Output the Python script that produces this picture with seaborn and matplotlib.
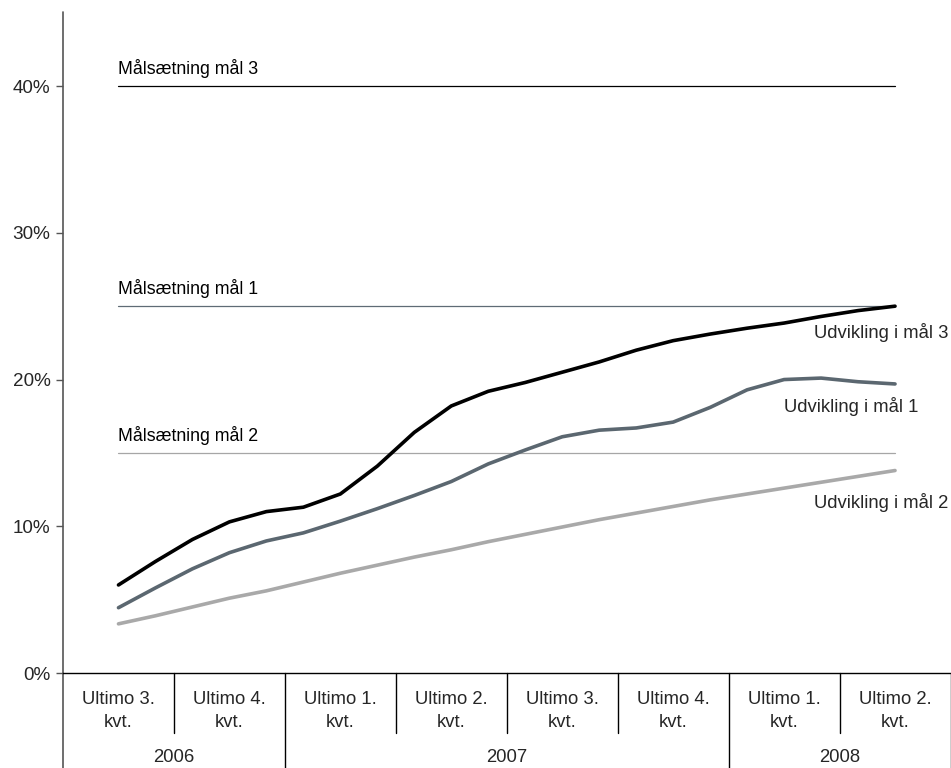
import numpy as np
import pandas as pd
import matplotlib
matplotlib.use("Agg")
import matplotlib.pyplot as plt
import matplotlib.transforms as mtransforms
import seaborn as sns

# ---------------- data ----------------
quarters = ["Ultimo 3.\nkvt.", "Ultimo 4.\nkvt.", "Ultimo 1.\nkvt.", "Ultimo 2.\nkvt.",
            "Ultimo 3.\nkvt.", "Ultimo 4.\nkvt.", "Ultimo 1.\nkvt.", "Ultimo 2.\nkvt."]
years = ["2006", "2007", "2008"]
year_first_q = [0, 2, 6]          # index of first quarter in each year
year_last_q = [1, 5, 7]           # index of last quarter in each year

# monthly observations: Ultimo 3. kvt. 2006 ... Ultimo 2. kvt. 2008 (22 months)
month_idx = list(range(22))
udv_maal3 = [6.0, 7.6, 9.1, 10.3, 11.0, 11.3, 12.2, 14.1, 16.4, 18.2, 19.2,
             19.8, 20.5, 21.2, 22.0, 22.65, 23.1, 23.5, 23.85, 24.3, 24.7, 25.0]
udv_maal1 = [4.45, 5.8, 7.1, 8.2, 9.0, 9.55, 10.35, 11.2, 12.1, 13.05, 14.25,
             15.2, 16.1, 16.55, 16.7, 17.1, 18.1, 19.3, 20.0, 20.1, 19.85, 19.7]
udv_maal2 = [3.35, 3.9, 4.5, 5.1, 5.6, 6.2, 6.8, 7.35, 7.9, 8.4, 8.95,
             9.45, 9.95, 10.45, 10.9, 11.35, 11.8, 12.2, 12.6, 13.0, 13.4, 13.8]
series_names = ["Udvikling i mål 3", "Udvikling i mål 1", "Udvikling i mål 2"]

target_names = ["Målsætning mål 3", "Målsætning mål 1", "Målsætning mål 2"]
target_values = [40, 25, 15]

yticks = [0, 10, 20, 30, 40]
ytick_labels = ["0%", "10%", "20%", "30%", "40%"]

# ---------------- styling ----------------
col_dev = ["#000000", "#5b6770", "#a9a9a9"]
col_target = ["#000000", "#5f6b75", "#a6a6a6"]

sns.set_theme(style="white")
plt.rcParams["font.family"] = ["Liberation Sans", "DejaVu Sans"]
FS_T = 12.8   # target labels
FS_S = 13.3   # series labels
FS_Q = 13.3   # category labels
FS_Y = 13.6   # y tick labels
YMAX = 45.05

fig = plt.figure(figsize=(9.51, 7.68), dpi=100)
W, H = 951, 768
ax_left, ax_right, ax_top, ax_bottom = 63, 950.5, 12, 673
ax = fig.add_axes([ax_left / W, 1 - ax_bottom / H, (ax_right - ax_left) / W, (ax_bottom - ax_top) / H])
ax_h = ax_bottom - ax_top

# development lines
df = pd.DataFrame({
    "pos": np.array(month_idx * 3) / 3.0,
    "value": udv_maal3 + udv_maal1 + udv_maal2,
    "series": [series_names[0]] * 22 + [series_names[1]] * 22 + [series_names[2]] * 22,
})

# target lines
for name, val, c in zip(target_names, target_values, col_target):
    tdf = pd.DataFrame({"pos": [0, len(quarters) - 1], "value": [val, val]})
    sns.lineplot(data=tdf, x="pos", y="value", ax=ax, color=c, linewidth=0.9, legend=False)
    ax.text(0, val + 1.2, name, fontsize=FS_T, ha="left", va="center", color="#000000")

sns.lineplot(data=df, x="pos", y="value", hue="series", hue_order=series_names,
             palette=col_dev, linewidth=2.6, legend=False, sort=False, ax=ax)

# series labels (right side)
def px_to_val(ypx):
    return (ax_bottom - ypx) / ax_h * YMAX

ax.text(7.48, px_to_val(333), series_names[0], fontsize=FS_S, ha="right", va="center")
ax.text((918 - ax_left) / (ax_right - ax_left) * 8 - 0.5, px_to_val(407), series_names[1],
        fontsize=FS_S, ha="right", va="center")
ax.text(7.48, px_to_val(503), series_names[2], fontsize=FS_S, ha="right", va="center")

ax.set_xlim(-0.5, 7.5)
ax.set_ylim(0, YMAX)
ax.set_yticks(yticks)
ax.set_yticklabels(ytick_labels, fontsize=FS_Y)
ax.set_xticks([])
ax.set_xlabel("")
ax.set_ylabel("")
ax.tick_params(axis="y", direction="out", length=5, width=1, color="#555555", pad=4, left=True)

for s in ["top", "right", "left"]:
    ax.spines[s].set_visible(False)
ax.spines["bottom"].set_color("#000000")
ax.spines["bottom"].set_linewidth(1.0)

trans = mtransforms.blended_transform_factory(ax.transData, ax.transAxes)
below_long = -(H - ax_bottom) / ax_h
below_short = -(733 - ax_bottom) / ax_h

# left axis line extended down
ax.plot([-0.5, -0.5], [below_long, 1.0], transform=trans, color="#555555", lw=1.2, clip_on=False)

# category separators
year_bounds = [f - 0.5 for f in year_first_q] + [year_last_q[-1] + 0.5]
for b in np.arange(0.5, 7.5, 1.0):
    if b in year_bounds:
        continue
    ax.plot([b, b], [below_short, 0], transform=trans, color="#000000", lw=1.0, clip_on=False)
for b in year_bounds[1:]:
    ax.plot([b, b], [below_long, 0], transform=trans, color="#000000", lw=1.0, clip_on=False)

# quarter labels
for i, q in enumerate(quarters):
    l1, l2 = q.split("\n")
    ax.text(i, -(699 - ax_bottom) / ax_h, l1, transform=trans, ha="center", va="center", fontsize=FS_Q)
    ax.text(i, -(722.5 - ax_bottom) / ax_h, l2, transform=trans, ha="center", va="center", fontsize=FS_Q)

# year labels
for y, f, l in zip(years, year_first_q, year_last_q):
    ax.text((f + l) / 2.0, -(758 - ax_bottom) / ax_h, y, transform=trans, ha="center", va="center", fontsize=FS_Q)

fig.savefig("out.png", dpi=100)
